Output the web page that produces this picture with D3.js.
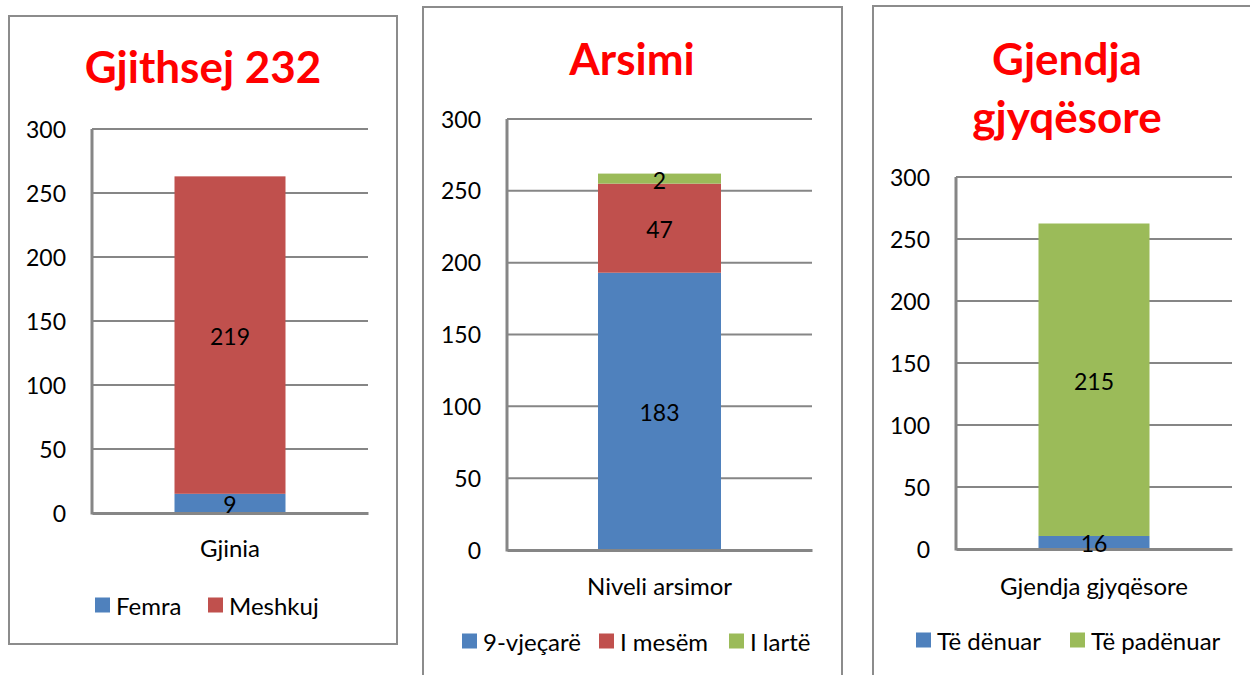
<!DOCTYPE html>
<html>
<head>
<meta charset="utf-8">
<script src="https://cdn.jsdelivr.net/npm/d3@7"></script>
<style>
  html, body { margin: 0; padding: 0; background: #fff; }
  svg { display: block; font-family: Lato, "Open Sans", sans-serif; }
</style>
</head>
<body>
<svg id="chart" width="1250" height="675"></svg>
<script>
// ---------- DATA ----------
const yTicks = [0, 50, 100, 150, 200, 250, 300];

// Panel 1: Gjinia
const genderTitle = ["Gjithsej 232"];
const genderCategory = "Gjinia";
const genderSeries = ["Femra", "Meshkuj"];
const genderValues = [15, 248];          // bar heights as drawn
const genderLabels = ["9", "219"];       // data labels as printed

// Panel 2: Arsimi
const eduTitle = ["Arsimi"];
const eduCategory = "Niveli arsimor";
const eduSeries = ["9-vjeçarë", "I mesëm", "I lartë"];
const eduValues = [193, 62, 7];
const eduLabels = ["183", "47", "2"];

// Panel 3: Gjendja gjyqësore
const courtTitle = ["Gjendja", "gjyqësore"];
const courtCategory = "Gjendja gjyqësore";
const courtSeries = ["Të dënuar", "Të padënuar"];
const courtValues = [10.5, 252];
const courtLabels = ["16", "215"];

const colorBySeries = {
  "Femra": "#4F81BD", "Meshkuj": "#C0504D",
  "9-vjeçarë": "#4F81BD", "I mesëm": "#C0504D", "I lartë": "#9BBB59",
  "Të dënuar": "#4F81BD", "Të padënuar": "#9BBB59"
};

// ---------- LAYOUT ----------
const panels = [
  { title: genderTitle, category: genderCategory, series: genderSeries, values: genderValues, labels: genderLabels,
    frame: { x: 9, y: 16, w: 388, h: 628 },
    titleX: 203, titleY: [66],
    plot: { x0: 92, x1: 368, top: 129, bottom: 513 },
    bar: { x0: 174, x1: 285 },
    tickRight: 66, catY: 547,
    legendY: 605, legendX: [95, 208] },
  { title: eduTitle, category: eduCategory, series: eduSeries, values: eduValues, labels: eduLabels,
    frame: { x: 423, y: 7, w: 419, h: 700 },
    titleX: 632, titleY: [58],
    plot: { x0: 507, x1: 812, top: 119, bottom: 550 },
    bar: { x0: 598, x1: 721 },
    tickRight: 481, catY: 585,
    legendY: 641, legendX: [462, 599, 729] },
  { title: courtTitle, category: courtCategory, series: courtSeries, values: courtValues, labels: courtLabels,
    frame: { x: 873, y: 6, w: 420, h: 700 },
    titleX: 1067, titleY: [58, 116],
    plot: { x0: 956, x1: 1232, top: 177, bottom: 549 },
    bar: { x0: 1038, x1: 1149 },
    tickRight: 930, catY: 585,
    legendY: 640, legendX: [916, 1070] }
];

const svg = d3.select("#chart");
const gridColor = "#868686";
const numSize = 23, wordSize = 24;

panels.forEach(p => {
  const g = svg.append("g");

  // frame
  g.append("rect")
    .attr("x", p.frame.x).attr("y", p.frame.y)
    .attr("width", p.frame.w).attr("height", p.frame.h)
    .attr("fill", "#fff").attr("stroke", "#8c8c8c").attr("stroke-width", 2);

  // title
  p.title.forEach((t, i) => {
    g.append("text")
      .attr("x", p.titleX).attr("y", p.titleY[i])
      .attr("text-anchor", "middle").attr("dominant-baseline", "central")
      .attr("fill", "#FF0000").attr("font-weight", "bold").attr("font-size", 44)
      .text(t);
  });

  // scales
  const y = d3.scaleLinear().domain([0, 300]).range([p.plot.bottom, p.plot.top]);
  const x = d3.scaleBand().domain([p.category]).range([p.plot.x0, p.plot.x1])
    .paddingInner(0).paddingOuter((p.plot.x1 - p.plot.x0 - (p.bar.x1 - p.bar.x0)) / 2 / (p.bar.x1 - p.bar.x0));

  // gridlines
  g.append("g").selectAll("line").data(yTicks.filter(d => d > 0)).join("line")
    .attr("x1", p.plot.x0).attr("x2", p.plot.x1)
    .attr("y1", d => y(d)).attr("y2", d => y(d))
    .attr("stroke", gridColor).attr("stroke-width", 2);

  // stacked bars
  const row = { category: p.category };
  p.series.forEach((s, i) => row[s] = p.values[i]);
  const stacked = d3.stack().keys(p.series)([row]);

  g.append("g").selectAll("rect").data(stacked).join("rect")
    .attr("x", x(p.category))
    .attr("width", x.bandwidth())
    .attr("y", d => y(d[0][1]))
    .attr("height", d => y(d[0][0]) - y(d[0][1]))
    .attr("fill", d => colorBySeries[d.key]);

  // y axis (no tick marks, gray line)
  const yAxis = d3.axisLeft(y).tickValues(yTicks).tickSize(0).tickPadding(0);
  const ya = g.append("g").attr("transform", `translate(${p.tickRight},0)`).call(yAxis);
  ya.select(".domain").remove();
  ya.selectAll("text").attr("font-size", numSize).attr("font-family", "Lato, sans-serif").attr("fill", "#000")
    .attr("dy", "0.35em");

  g.append("line")
    .attr("x1", p.plot.x0).attr("x2", p.plot.x0)
    .attr("y1", p.plot.top).attr("y2", p.plot.bottom + 1.5)
    .attr("stroke", gridColor).attr("stroke-width", 3);

  // x axis
  const xAxis = d3.axisBottom(x).tickSize(0).tickPadding(0);
  const xa = g.append("g").attr("transform", `translate(0,${p.plot.bottom})`).call(xAxis);
  xa.select(".domain").attr("stroke", gridColor).attr("stroke-width", 3);
  xa.selectAll("text").attr("font-size", wordSize).attr("font-family", "Lato, sans-serif").attr("fill", "#000")
    .attr("dy", 0).attr("y", p.catY - p.plot.bottom).attr("dominant-baseline", "central");

  // data labels (drawn on top of axes)
  g.append("g").selectAll("text").data(stacked).join("text")
    .attr("x", x(p.category) + x.bandwidth() / 2)
    .attr("y", d => (y(d[0][0]) + y(d[0][1])) / 2 + 1)
    .attr("text-anchor", "middle").attr("dominant-baseline", "central")
    .attr("font-size", numSize).attr("fill", "#000")
    .text((d, i) => p.labels[i]);

  // legend
  const lg = g.append("g").selectAll("g").data(p.series).join("g")
    .attr("transform", (d, i) => `translate(${p.legendX[i]},${p.legendY})`);
  lg.append("rect").attr("x", 0).attr("y", -7.5).attr("width", 15).attr("height", 15)
    .attr("fill", d => colorBySeries[d]);
  lg.append("text").attr("x", 21).attr("y", 0).attr("dominant-baseline", "central")
    .attr("font-size", wordSize).attr("fill", "#000").text(d => d);
});
</script>
</body>
</html>
